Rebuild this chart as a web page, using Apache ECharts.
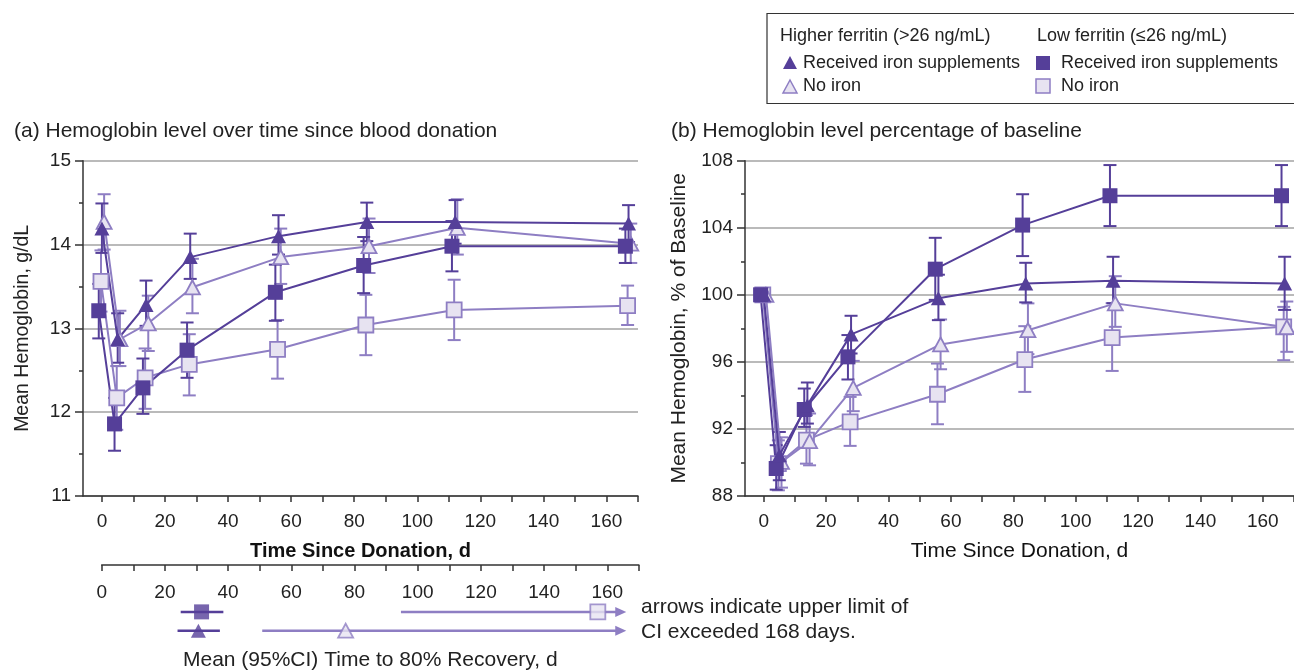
<!DOCTYPE html>
<html>
<head>
<meta charset="utf-8">
<script src="https://cdn.jsdelivr.net/npm/echarts@6/dist/echarts.min.js"></script>
<style>
  html, body { margin: 0; padding: 0; background: #fff; }
  #main { width: 1294px; height: 671px; }
</style>
</head>
<body>
<div id="main"></div>
<script>
// visit days since donation
var days = [0, 5, 14, 28, 56, 84, 112, 167];

// (a) hemoglobin, g/dL: mean, lower and upper 95% CI
var hgbHighIron   = [14.19, 12.87, 13.28, 13.85, 14.10, 14.27, 14.27, 14.25];
var hgbHighIronLo = [13.90, 12.59, 13.03, 13.59, 13.88, 14.04, 14.01, 14.03];
var hgbHighIronHi = [14.49, 13.18, 13.57, 14.13, 14.35, 14.50, 14.53, 14.47];

var hgbHighNo   = [14.27, 12.87, 13.06, 13.49, 13.85, 13.98, 14.20, 14.01];
var hgbHighNoLo = [13.94, 12.55, 12.73, 13.18, 13.53, 13.66, 13.88, 13.78];
var hgbHighNoHi = [14.60, 13.21, 13.39, 13.83, 14.19, 14.31, 14.54, 14.25];

var hgbLowIron   = [13.21, 11.86, 12.29, 12.74, 13.43, 13.75, 13.98, 13.98];
var hgbLowIronLo = [12.88, 11.54, 11.98, 12.41, 13.09, 13.42, 13.68, 13.78];
var hgbLowIronHi = [13.53, 12.17, 12.64, 13.07, 13.76, 14.09, 14.28, 14.19];

var hgbLowNo   = [13.56, 12.17, 12.41, 12.57, 12.75, 13.04, 13.22, 13.27];
var hgbLowNoLo = [13.20, 11.79, 12.04, 12.20, 12.40, 12.68, 12.86, 13.04];
var hgbLowNoHi = [13.93, 12.55, 12.76, 12.93, 13.10, 13.40, 13.58, 13.51];

// (b) hemoglobin, % of baseline
var pctHighIron   = [100, 90.43, 93.42, 97.64, 99.79, 100.68, 100.84, 100.68];
var pctHighIronLo = [null, 88.94, 92.32, 96.50, 98.49, 99.55, 99.50, 99.10];
var pctHighIronHi = [null, 91.82, 94.77, 98.75, 101.20, 101.91, 102.27, 102.27];

var pctHighNo   = [100, 90.03, 91.27, 94.45, 97.04, 97.89, 99.49, 98.07];
var pctHighNoLo = [null, 88.50, 89.83, 93.06, 95.56, 96.46, 98.09, 96.60];
var pctHighNoHi = [null, 91.50, 92.92, 96.06, 98.53, 99.49, 101.11, 99.60];

var pctLowIron   = [100, 89.64, 93.16, 96.30, 101.53, 104.16, 105.91, 105.91];
var pctLowIronLo = [null, 88.38, 92.12, 94.95, 99.70, 102.31, 104.10, 104.10];
var pctLowIronHi = [null, 91.03, 94.41, 97.60, 103.40, 106.00, 107.74, 107.74];

var pctLowNo   = [100, 89.93, 91.33, 92.42, 94.07, 96.14, 97.45, 98.09];
var pctLowNoLo = [null, 88.34, 89.93, 90.99, 92.28, 94.21, 95.46, 96.10];
var pctLowNoHi = [null, 91.32, 92.82, 93.91, 95.90, 98.13, 99.50, 99.28];

// time to 80% recovery, d  (order: low iron, low no iron, high iron, high no iron)
var recoveryRow   = [2, 2, 3, 3];
var recoveryMean  = [31.6, 157, 30.6, 77.2];
var recoveryLo    = [25, 94.7, 24, 50.8];
var recoveryHi    = [38.5, 166, 37.4, 166];
var recoveryArrow = [false, true, false, true];

// tick labels
var tickDays = [0, 10, 20, 30, 40, 50, 60, 70, 80, 90, 100, 110, 120, 130, 140, 150, 160, 170];
var labelDays = [0, 20, 40, 60, 80, 100, 120, 140, 160];

var DARK = '#553f99';
var LIGHT = '#8e7ec3';
var PALE = '#e7e3f1';
var FONT = 'Liberation Sans, Arial, sans-serif';

function pts(mean, dodge) {
    return days.map(function (d, i) { return [d + dodge, mean[i]]; });
}
function ci(lo, hi, dodge) {
    var out = [];
    days.forEach(function (d, i) {
        if (lo[i] != null) out.push([d + dodge, lo[i], hi[i]]);
    });
    return out;
}

function errorBars(data, color, gi) {
    return {
        type: 'custom',
        xAxisIndex: gi, yAxisIndex: gi,
        z: 2,
        silent: true,
        encode: { x: 0, y: [1, 2] },
        data: data,
        renderItem: function (params, api) {
            var top = api.coord([api.value(0), api.value(2)]);
            var bot = api.coord([api.value(0), api.value(1)]);
            var w = 6.5;
            var st = { stroke: color, lineWidth: 2 };
            return {
                type: 'group',
                children: [
                    { type: 'line', shape: { x1: top[0], y1: top[1], x2: bot[0], y2: bot[1] }, style: st },
                    { type: 'line', shape: { x1: top[0] - w, y1: top[1], x2: top[0] + w, y2: top[1] }, style: st },
                    { type: 'line', shape: { x1: bot[0] - w, y1: bot[1], x2: bot[0] + w, y2: bot[1] }, style: st }
                ]
            };
        }
    };
}

function lineSeries(name, data, gi, symbol, dark) {
    return {
        name: name,
        type: 'line',
        xAxisIndex: gi, yAxisIndex: gi,
        z: 3,
        data: data,
        symbol: symbol,
        symbolSize: symbol === 'triangle' ? [15, 14] : 15,
        lineStyle: { color: dark ? DARK : LIGHT, width: 2 },
        itemStyle: {
            color: dark ? DARK : PALE,
            borderColor: dark ? DARK : LIGHT,
            borderWidth: dark ? 0 : 1.8
        }
    };
}

function timeAxis(gi, bold) {
    return {
        type: 'value', gridIndex: gi, min: -6, max: 170,
        axisLine: { show: true, onZero: false, lineStyle: { color: '#333', width: 1.5 } },
        axisTick: { show: true, customValues: tickDays, length: 6, lineStyle: { color: '#333', width: 1.5 } },
        axisLabel: { customValues: labelDays, color: '#222', fontSize: 19, fontFamily: FONT, margin: 16 },
        splitLine: { show: false },
        name: 'Time Since Donation, d', nameLocation: 'middle', nameGap: 45,
        nameTextStyle: { color: '#111', fontSize: bold ? 20 : 21, fontFamily: FONT, fontWeight: bold ? 'bold' : 'normal' }
    };
}

function valueAxis(gi, min, max, interval, name, gap, size) {
    return {
        type: 'value', gridIndex: gi, min: min, max: max, interval: interval,
        axisLine: { show: true, onZero: false, lineStyle: { color: '#333', width: 1.5 } },
        axisTick: { show: true, length: 8, lineStyle: { color: '#333', width: 1.5 } },
        minorTick: { show: true, splitNumber: 2, length: 4, lineStyle: { color: '#333', width: 1.5 } },
        axisLabel: { color: '#222', fontSize: 19, fontFamily: FONT, margin: 12 },
        splitLine: { show: true, lineStyle: { color: '#a3a3a3', width: 1.5 } },
        name: name, nameLocation: 'middle', nameGap: gap, nameRotate: 90,
        nameTextStyle: { color: '#222', fontSize: size, fontFamily: FONT }
    };
}

var myChart = echarts.init(document.getElementById('main'));

var series = [
    errorBars(ci(hgbLowNoLo, hgbLowNoHi, -0.3), LIGHT, 0),
    errorBars(ci(hgbHighNoLo, hgbHighNoHi, 0.7), LIGHT, 0),
    errorBars(ci(hgbLowIronLo, hgbLowIronHi, -1), DARK, 0),
    errorBars(ci(hgbHighIronLo, hgbHighIronHi, 0), DARK, 0),
    lineSeries('Low ferritin, no iron', pts(hgbLowNo, -0.3), 0, 'rect', false),
    lineSeries('Higher ferritin, no iron', pts(hgbHighNo, 0.7), 0, 'triangle', false),
    lineSeries('Low ferritin, iron', pts(hgbLowIron, -1), 0, 'rect', true),
    lineSeries('Higher ferritin, iron', pts(hgbHighIron, 0), 0, 'triangle', true),

    errorBars(ci(pctLowNoLo, pctLowNoHi, -0.3), LIGHT, 1),
    errorBars(ci(pctHighNoLo, pctHighNoHi, 0.7), LIGHT, 1),
    errorBars(ci(pctLowIronLo, pctLowIronHi, -1), DARK, 1),
    errorBars(ci(pctHighIronLo, pctHighIronHi, 0), DARK, 1),
    lineSeries('Low ferritin, no iron', pts(pctLowNo, -0.3), 1, 'rect', false),
    lineSeries('Higher ferritin, no iron', pts(pctHighNo, 0.7), 1, 'triangle', false),
    lineSeries('Low ferritin, iron', pts(pctLowIron, -1), 1, 'rect', true),
    lineSeries('Higher ferritin, iron', pts(pctHighIron, 0), 1, 'triangle', true),

    // recovery CI lines
    {
        type: 'custom', xAxisIndex: 2, yAxisIndex: 2, z: 2, silent: true,
        encode: { x: [1, 2], y: 0 },
        data: recoveryRow.map(function (r, i) {
            return [r, recoveryLo[i], recoveryHi[i], recoveryArrow[i] ? 1 : 0, i];
        }),
        renderItem: function (params, api) {
            var a = api.coord([api.value(1), api.value(0)]);
            var b = api.coord([api.value(2), api.value(0)]);
            var arrow = api.value(3) === 1;
            var col = (api.value(4) % 2 === 1) ? LIGHT : DARK;
            var kids = [];
            var end = arrow ? b[0] - 9 : b[0];
            kids.push({ type: 'line', shape: { x1: a[0], y1: a[1], x2: end, y2: b[1] }, style: { stroke: col, lineWidth: 2.5 } });
            if (arrow) {
                kids.push({ type: 'polygon', shape: { points: [[b[0] - 11, b[1] - 5], [b[0], b[1]], [b[0] - 11, b[1] + 5]] }, style: { fill: col } });
            }
            return { type: 'group', children: kids };
        }
    },
    {
        type: 'scatter', xAxisIndex: 2, yAxisIndex: 2, z: 3, symbol: 'rect', symbolSize: 15,
        data: [
            { value: [recoveryMean[0], recoveryRow[0]], itemStyle: { color: DARK } },
            { value: [recoveryMean[1], recoveryRow[1]], itemStyle: { color: PALE, borderColor: LIGHT, borderWidth: 1.8 } }
        ]
    },
    {
        type: 'scatter', xAxisIndex: 2, yAxisIndex: 2, z: 3, symbol: 'triangle', symbolSize: [15, 14],
        data: [
            { value: [recoveryMean[2], recoveryRow[2]], itemStyle: { color: DARK } },
            { value: [recoveryMean[3], recoveryRow[3]], itemStyle: { color: PALE, borderColor: LIGHT, borderWidth: 1.8 } }
        ]
    }
];

var option = {
    backgroundColor: '#fff',
    animation: false,
    title: [
        { text: '(a) Hemoglobin level over time since blood donation', left: 9, top: 116,
          textStyle: { color: '#222', fontSize: 21, fontWeight: 'normal', fontFamily: FONT } },
        { text: '(b) Hemoglobin level percentage of baseline', left: 666, top: 116,
          textStyle: { color: '#222', fontSize: 21, fontWeight: 'normal', fontFamily: FONT } }
    ],
    grid: [
        { left: 83, top: 160.7, width: 555, height: 335.3 },
        { left: 745, top: 160.7, width: 557, height: 335.3 },
        { left: 101.7, top: 565, width: 537.2, height: 76 }
    ],
    xAxis: [
        timeAxis(0, true),
        timeAxis(1, false),
        {
            type: 'value', gridIndex: 2, min: 0, max: 170, position: 'top',
            axisLine: { show: true, onZero: false, lineStyle: { color: '#333', width: 1.5 } },
            axisTick: { show: true, inside: true, customValues: tickDays, length: 6, lineStyle: { color: '#333', width: 1.5 } },
            axisLabel: { inside: true, customValues: labelDays, color: '#222', fontSize: 19, fontFamily: FONT, margin: 18 },
            splitLine: { show: false },
            name: 'Mean (95%CI) Time to 80% Recovery, d', nameLocation: 'middle', nameGap: -106,
            nameTextStyle: { color: '#222', fontSize: 21, fontFamily: FONT }
        }
    ],
    yAxis: [
        valueAxis(0, 11, 15, 1, 'Mean Hemoglobin, g/dL', 50, 19.5),
        valueAxis(1, 88, 108, 4, 'Mean Hemoglobin, % of Baseline', 55, 21),
        {
            type: 'category', gridIndex: 2, inverse: true, data: ['', ' ', 'Low ferritin', 'Higher ferritin'],
            show: false
        }
    ],
    graphic: [
        { type: 'rect', shape: { x: 767, y: 13.5, width: 560, height: 90 }, style: { fill: 'none', stroke: '#333', lineWidth: 1.2 } },
        { type: 'text', x: 780, y: 36, style: { text: 'Higher ferritin (>26 ng/mL)', fill: '#222', font: '18px ' + FONT, verticalAlign: 'middle' } },
        { type: 'text', x: 1037, y: 36, style: { text: 'Low ferritin (≤26 ng/mL)', fill: '#222', font: '18px ' + FONT, verticalAlign: 'middle' } },
        { type: 'polygon', shape: { points: [[790, 56], [797, 69], [783, 69]] }, style: { fill: DARK } },
        { type: 'text', x: 803, y: 63, style: { text: 'Received iron supplements', fill: '#222', font: '18px ' + FONT, verticalAlign: 'middle' } },
        { type: 'polygon', shape: { points: [[790, 80], [797, 93], [783, 93]] }, style: { fill: PALE, stroke: LIGHT, lineWidth: 1.5 } },
        { type: 'text', x: 803, y: 86, style: { text: 'No iron', fill: '#222', font: '18px ' + FONT, verticalAlign: 'middle' } },
        { type: 'rect', shape: { x: 1036, y: 56, width: 14, height: 14 }, style: { fill: DARK } },
        { type: 'text', x: 1061, y: 63, style: { text: 'Received iron supplements', fill: '#222', font: '18px ' + FONT, verticalAlign: 'middle' } },
        { type: 'rect', shape: { x: 1036, y: 79, width: 14, height: 14 }, style: { fill: PALE, stroke: LIGHT, lineWidth: 1.5 } },
        { type: 'text', x: 1061, y: 86, style: { text: 'No iron', fill: '#222', font: '18px ' + FONT, verticalAlign: 'middle' } },
        { type: 'text', x: 641, y: 607, style: { text: 'arrows indicate upper limit of', fill: '#222', font: '21px ' + FONT, verticalAlign: 'middle' } },
        { type: 'text', x: 641, y: 632, style: { text: 'CI exceeded 168 days.', fill: '#222', font: '21px ' + FONT, verticalAlign: 'middle' } }
    ],
    series: series
};

myChart.setOption(option);
</script>
</body>
</html>
